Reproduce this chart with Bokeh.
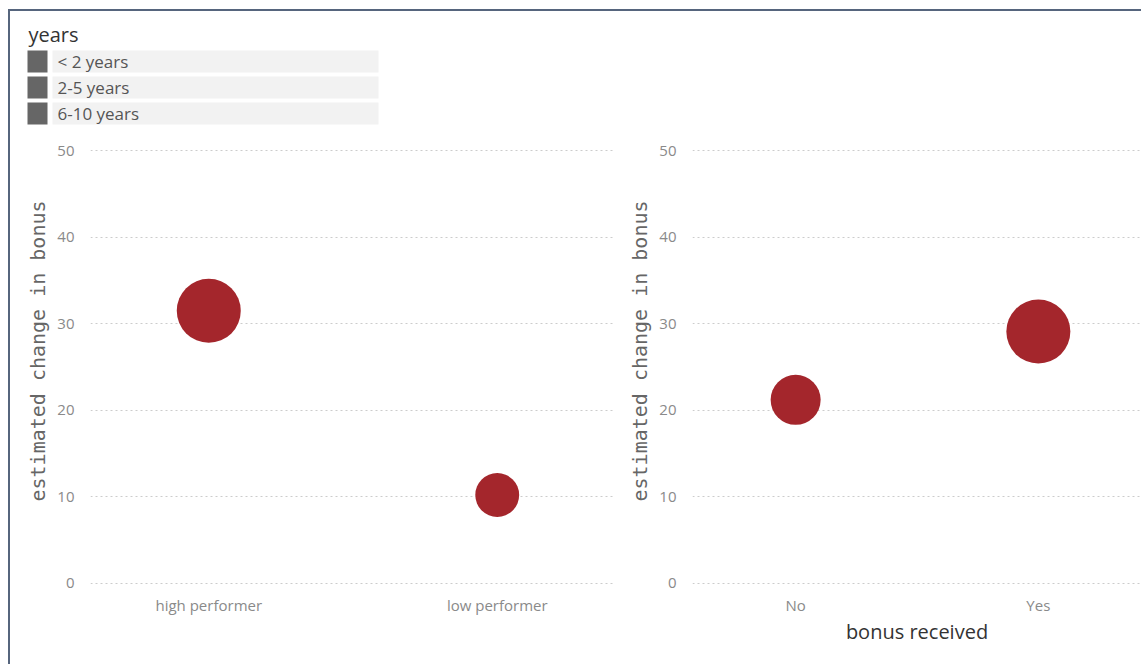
from bokeh.plotting import figure
from bokeh.models import FactorRange, Range1d, ColumnDataSource, FixedTicker, Title
from bokeh.core.properties import value
from bokeh.layouts import column, row
from bokeh.embed import file_html
from bokeh.resources import INLINE

# ---- data ----
performance_groups = ["high performer", "low performer"]
performance_change = [31.5, 10.2]
performance_weight = [100, 47]

bonus_groups = ["No", "Yes"]
bonus_change = [21.2, 29.1]
bonus_weight = [61, 100]

tenure_groups = ["< 2 years", "2-5 years", "6-10 years"]
y_ticks = [0, 10, 20, 30, 40, 50]
y_title = "estimated change in bonus"

# ---- styling ----
FONT = "Open Sans"
AXIS_TITLE_FONT = "DejaVu Sans Mono"
BUBBLE = "#a4262c"
TICK_COLOR = "#8a8a8a"
TITLE_COLOR = "#666666"
MAX_DIAMETER = 64


def bubble_sizes(weights):
    top = max(performance_weight + bonus_weight)
    return [MAX_DIAMETER * (w / top) ** 0.5 for w in weights]


def panel(categories, values, weights, width, border_left, border_right, padding, x_title):
    p = figure(
        x_range=FactorRange(factors=categories, range_padding=padding,
                            range_padding_units="absolute"),
        y_range=Range1d(-0.15, 50.15),
        width=width, height=533,
        min_border_left=border_left, min_border_right=border_right,
        min_border_top=18, min_border_bottom=80,
        output_backend="svg", toolbar_location=None,
    )
    src = ColumnDataSource(dict(cat=categories, val=values, size=bubble_sizes(weights)))
    p.scatter("cat", "val", size="size", source=src, fill_color=BUBBLE,
              line_color=None, marker="circle")

    p.outline_line_color = None
    p.background_fill_color = "white"
    p.border_fill_color = "white"
    p.xgrid.grid_line_color = None
    p.ygrid.grid_line_color = "#cccccc"
    p.ygrid.grid_line_dash = "2 3"
    p.ygrid.grid_line_width = 1

    p.yaxis.ticker = FixedTicker(ticks=y_ticks)
    for ax in (p.xaxis[0], p.yaxis[0]):
        ax.axis_line_color = None
        ax.major_tick_line_color = None
        ax.minor_tick_line_color = None
        ax.major_label_text_font = FONT
        ax.major_label_text_color = TICK_COLOR
        ax.major_label_text_font_size = "15px"
        ax.axis_label_text_font_style = "normal"

    p.yaxis.major_label_standoff = 10

    # vertical title, starting a little above the bottom of the plot area
    p.add_layout(Title(text=y_title, align="left", offset=83, standoff=10,
                       text_font=AXIS_TITLE_FONT, text_font_size="20px",
                       text_color=TITLE_COLOR, text_font_style="normal"), "left")

    p.xaxis.major_label_standoff = 4
    if x_title:
        p.xaxis.axis_label = x_title
        p.xaxis.axis_label_text_font = FONT
        p.xaxis.axis_label_text_font_size = "20px"
        p.xaxis.axis_label_text_color = "#333333"
        p.xaxis.axis_label_standoff = 0
    return p


left = panel(performance_groups, performance_change, performance_weight,
             width=610, border_left=80, border_right=5, padding=-0.09, x_title=None)
right = panel(bonus_groups, bonus_change, bonus_weight,
              width=521, border_left=68, border_right=0, padding=-0.075,
              x_title="bonus received")

# ---- legend strip (coordinates follow the page pixels) ----
leg = figure(width=1131, height=120, x_range=Range1d(10, 1141), y_range=Range1d(131, 11),
             output_backend="svg", toolbar_location=None, min_border=0)
leg.axis.visible = False
leg.grid.visible = False
leg.outline_line_color = None

ROW_TOP, ROW_H, ROW_STEP = 50, 22, 26
tops = [ROW_TOP + i * ROW_STEP for i in range(len(tenure_groups))]
bottoms = [t + ROW_H for t in tops]

leg.quad(left=[52] * len(tops), right=[378] * len(tops), top=tops, bottom=bottoms,
         fill_color="#f2f2f2", line_color=None)
leg.quad(left=[27] * len(tops), right=[47] * len(tops), top=tops, bottom=bottoms,
         fill_color="#666666", line_color=None)
leg.text(x=[57] * len(tops), y=[t + ROW_H / 2 for t in tops], text=tenure_groups,
         text_font=value(FONT), text_font_size="17px", text_color="#555555",
         text_baseline="middle")
leg.text(x=[28], y=[34], text=["years"], text_font=value(FONT), text_font_size="20px",
         text_color="#333333", text_baseline="middle")

page = column(
    leg, row(left, right),
    margin=(9, 0, 0, 8),
    styles={"border-left": "2px solid #56657d", "border-top": "2px solid #56657d"},
)

open("out.html", "w").write(file_html(page, INLINE))
